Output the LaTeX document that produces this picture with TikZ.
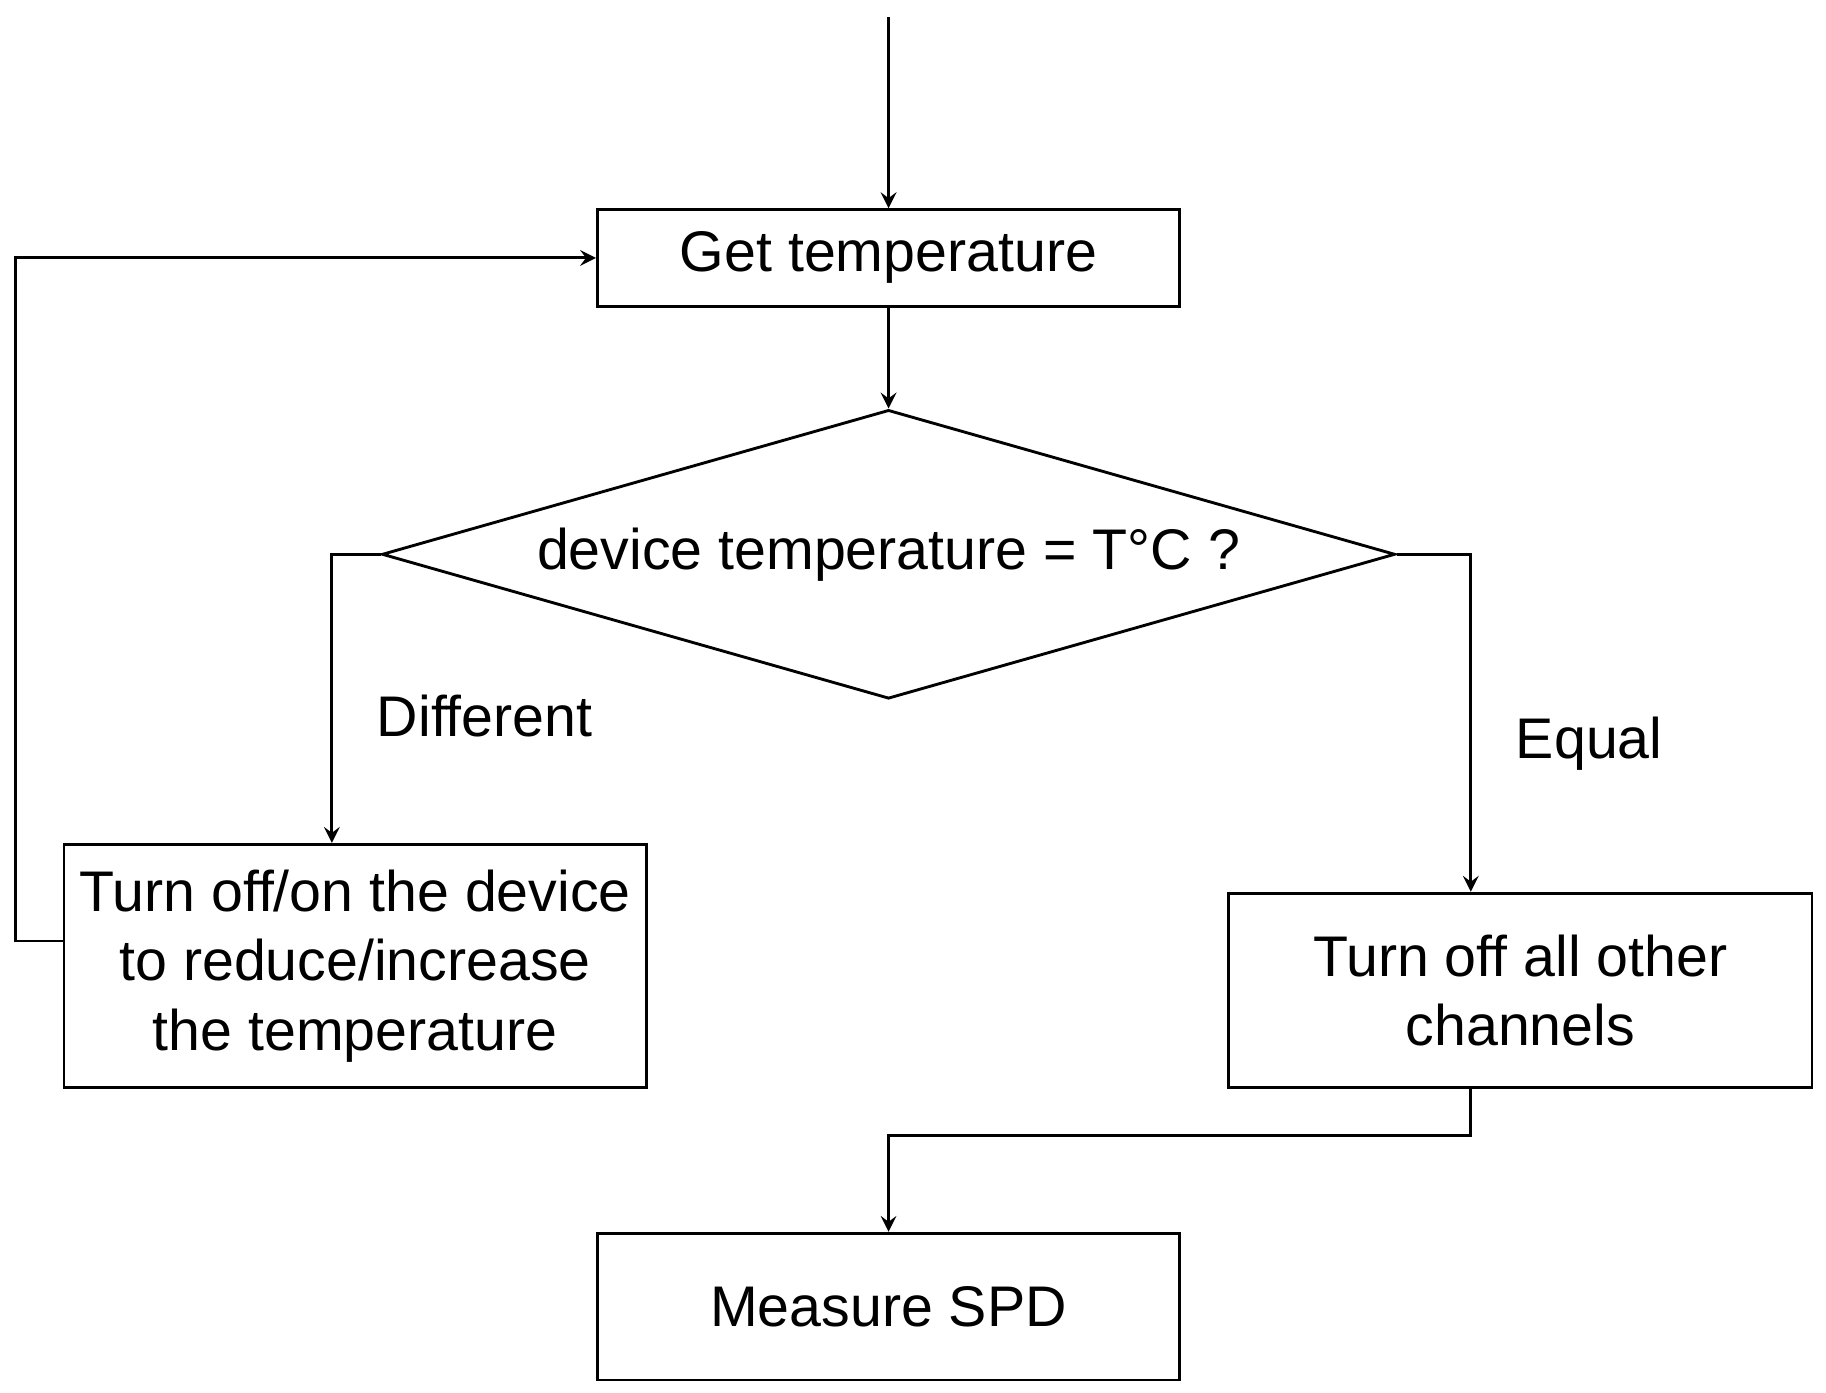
\documentclass[tikz,border=0pt]{standalone}
\usepackage{fontspec}
\setmainfont{Liberation Sans}
\usepackage{tikz}
\usetikzlibrary{arrows,shapes.geometric}

\begin{document}
\fontsize{14pt}{17pt}\selectfont
\begin{tikzpicture}[shape=rectangle,>=stealth,line width=0.7pt,
  box/.style={draw, inner sep=0pt, align=center}]
\useasboundingbox (0,0) rectangle (15.68,11.96);
\coordinate (start) at (7.63,11.81);
\node (getTemp) [box, minimum width=5cm, minimum height=0.83cm] at (7.63,9.745)
{Get temperature};
\node (tempCheck) [draw, shape=diamond, inner sep=0pt, minimum width=8.7cm,
minimum height=2.48cm, aspect=3.5] at (7.63,7.20) {};
\node at (tempCheck) {device temperature = T°C ?};
\node (adjust) [box, minimum width=5cm, minimum height=2.09cm] at (3.05,3.665)
{Turn off/on the device\\to reduce/increase\\the temperature};
\node (channelsOff) [box, minimum width=5.01cm, minimum height=1.67cm]
at (13.055,3.455) {Turn off all other\\channels};
\node (measure) [box, minimum width=5cm, minimum height=1.26cm] at (7.63,0.74)
{Measure SPD};

\draw[->] (start) -- (getTemp);
\draw[->] (getTemp) -- (tempCheck);
\draw[->] (tempCheck.west) -| node [pos=0.78, right=6pt] {Different} (adjust.north -| 2.85,0);
\draw[->] (tempCheck.east) -| node [pos=0.78, right=6pt] {Equal} (channelsOff.north -| 12.63,0);
\draw[->] (adjust.west |- 0,3.88) -- (0.13,3.88) |- (getTemp.west);
\draw[->] (channelsOff.south -| 12.63,0) |- (7.63,2.21) -- (measure);
\end{tikzpicture}
\end{document}
